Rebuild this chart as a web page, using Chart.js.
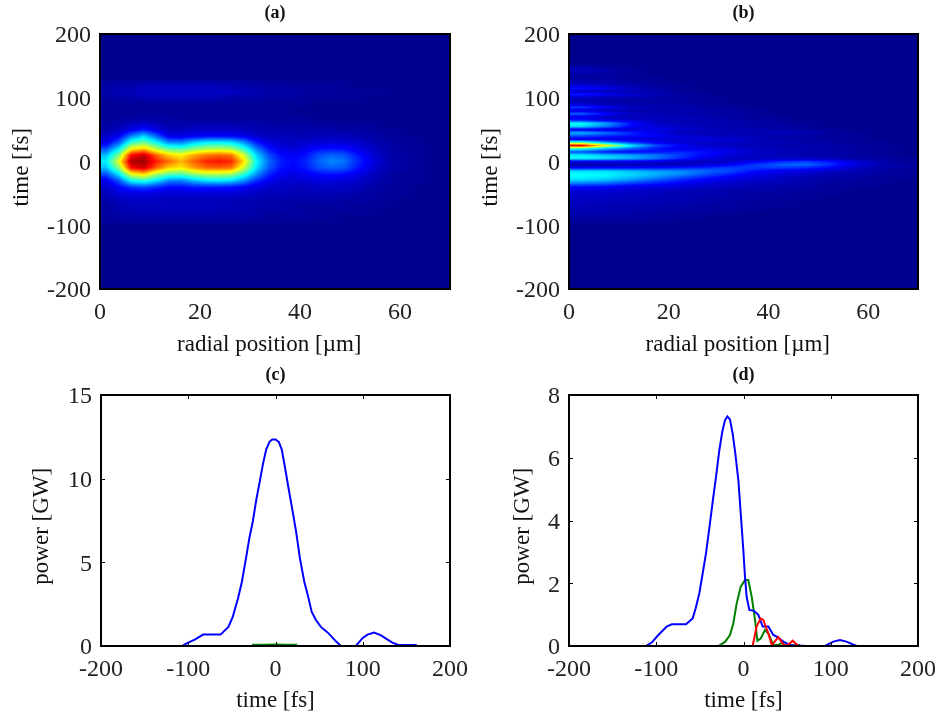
<!DOCTYPE html>
<html>
<head>
<meta charset="utf-8">
<title>pulse panels</title>
<script src="https://cdn.jsdelivr.net/npm/chart.js@4"></script>
<style>
  html, body { margin: 0; padding: 0; background: #fff; overflow: hidden; }
  #wrap { position: relative; width: 935px; height: 712px; overflow: hidden; }
  canvas { position: absolute; filter: blur(0.45px); }
</style>
</head>
<body>
<div id="wrap">
  <canvas id="panel-a"></canvas>
  <canvas id="panel-b"></canvas>
  <canvas id="panel-c"></canvas>
  <canvas id="panel-d"></canvas>
</div>
<script>
// axis ticks
const radialTicks = [0, 20, 40, 60];
const timeTicks = [-200, -100, 0, 100, 200];
const powerTicksC = [0, 5, 10, 15];
const powerTicksD = [0, 2, 4, 6, 8];

// panel (a): rows are time, columns are radial position, values in % of the colour range
const radiiA = [1.25, 3.75, 6.25, 8.75, 11.25, 13.75, 16.25, 18.75, 21.25, 23.75, 26.25, 28.75, 31.25, 33.75,
                36.25, 38.75, 41.25, 43.75, 46.25, 48.75, 51.25, 53.75, 56.25, 58.75, 61.25, 63.75, 66.25, 68.75];
const timesA = [130, 120, 110, 100, 90, 80, 70, 60, 50, 40, 30, 20, 10, 0, -10, -20, -30, -40, -50, -60, -70, -80, -90, -100];
const valuesA = [
  [1,1,1,1,1,1,1,1,1,1,1,1,1],
  [2,3,3,4,4,4,4,4,4,4,3,3,2,2,2,1,1,1,1,1],
  [3,4,5,6,6,6,6,6,6,6,6,5,4,3,3,3,2,2,2,1,1,1,1],
  [2,3,3,4,4,4,4,4,4,4,3,3,3,2,2,2,1,1,1,1,1],
  [1,1,1,1,1,1,1,1,1,1,1,1,1,1,1,1,1],
  [1,1,1,1,1,1,1,1,1,1,1,1,1,1,1],
  [1,1,1,2,2,2,1,1,1,1,1,1,1,1,1,1,1],
  [2,3,5,6,4,3,3,3,3,3,3,3,3,2,2,2,2,1,1,1,1,1],
  [3,5,10,15,9,5,5,6,6,6,6,5,4,4,3,3,3,3,3,2,2,2,1,1],
  [6,11,25,33,22,10,9,11,12,12,12,10,7,5,5,4,4,5,5,5,4,3,2,1,1],
  [10,21,42,48,38,26,25,32,36,37,35,27,15,9,7,6,7,8,8,8,7,5,3,2,1,1],
  [20,35,62,68,55,46,44,50,54,55,53,42,25,14,9,8,11,13,14,13,10,7,4,2,1,1],
  [31,50,87,93,78,67,63,71,76,78,76,58,34,20,13,11,14,20,22,21,15,10,5,3,2,1],
  [36,60,95,97,85,77,70,78,84,86,84,66,38,23,15,13,16,22,26,24,17,11,6,3,2,1],
  [31,50,87,92,78,67,64,72,77,78,76,58,35,21,14,12,15,20,22,21,15,10,5,3,2,1],
  [20,35,60,66,54,46,45,51,55,55,53,42,27,16,11,9,11,13,14,13,10,7,4,2,1,1],
  [10,21,38,42,35,26,25,31,35,36,34,27,17,11,8,7,8,9,9,8,7,5,3,2,1,1],
  [7,12,18,20,17,13,13,15,15,15,14,12,9,7,6,5,5,6,6,6,5,3,2,1,1],
  [5,8,9,9,8,8,8,8,8,8,8,7,6,5,5,4,4,4,4,4,3,2,2,1,1],
  [3,5,6,6,6,5,5,5,5,5,5,4,4,3,3,3,3,3,3,2,2,2,1,1],
  [2,4,5,5,5,5,5,5,5,5,4,4,3,3,3,2,2,2,2,2,1,1,1],
  [2,3,4,4,4,4,4,4,4,4,4,3,3,2,2,2,2,1,1,1,1,1],
  [2,2,2,2,2,2,2,2,2,2,2,2,2,1,1,1,1,1,1],
  [1,1,1,1,1,1,1,1,1,1,1,1,1,1]
];

// panel (b)
const radiiB = [2.5, 7.5, 12.5, 17.5, 22.5, 27.5, 32.5, 37.5, 42.5, 47.5, 52.5, 57.5, 62.5, 67.5];
const timesB = [160, 155, 150, 145, 140, 135, 130, 125, 120, 115, 110, 105, 100, 95, 90, 85, 80, 75, 70, 65, 60, 55, 50, 45, 40,
                35, 30, 25, 20, 15, 10, 5, 0, -5, -10, -15, -20, -25, -30, -35, -40, -45, -50, -55, -60, -65, -70, -75, -80, -85, -90, -95, -100];
const valuesB = [
  [0],
  [0],
  [2,1],
  [5,3,1],
  [4,3,1],
  [2,2,1],
  [2,2,1,1],
  [4,3,2,1],
  [7,5,3,1,1],
  [14,10,6,3,1],
  [7,5,4,3,1],
  [15,11,7,4,2,1],
  [6,4,4,3,2,1],
  [4,3,2,2,2,1],
  [7,4,3,3,3,2,1],
  [18,11,6,4,3,2,1],
  [8,5,3,3,4,3,2,1],
  [22,13,6,4,3,2,2,1],
  [10,6,4,5,5,4,2,1,1],
  [14,9,7,6,4,4,3,2,1],
  [38,28,14,6,4,4,4,3,2,1],
  [34,24,12,8,6,4,3,2,2,1],
  [10,8,8,10,7,5,4,4,3,2,1],
  [30,24,16,9,5,4,4,4,5,4,2,1],
  [20,16,14,12,8,6,5,4,3,2,1,1],
  [8,8,8,8,8,9,7,5,3,3,2,1],
  [45,28,18,11,7,6,6,5,4,3,2,1,1],
  [90,62,36,20,12,7,5,4,3,3,3,2,1],
  [40,30,22,14,10,9,8,6,5,4,3,2,1],
  [20,14,12,14,16,14,10,6,4,3,3,2,1],
  [36,32,28,24,18,12,8,6,5,4,3,2,1],
  [38,35,30,24,16,10,6,5,5,5,4,2,2,1],
  [10,10,10,9,6,5,7,11,16,18,14,8,3,1],
  [3,4,4,4,5,8,12,18,22,23,17,9,4,2],
  [12,13,13,14,15,17,19,18,18,16,12,6,3,2],
  [34,34,31,28,26,23,19,13,10,9,6,4,2,1],
  [38,37,34,30,26,20,15,10,8,6,4,3,2,1],
  [37,35,31,26,20,15,11,8,6,4,3,2,1,1],
  [32,30,25,20,15,11,8,6,5,3,2,2,1],
  [23,21,17,14,11,8,6,5,4,3,2,1,1],
  [13,12,10,9,8,6,5,4,3,2,1,1],
  [9,8,7,6,5,4,3,3,2,2,1],
  [7,7,6,5,4,4,3,2,2,1,1],
  [6,6,5,5,4,3,3,2,1,1],
  [6,5,5,4,4,3,2,2,1,1],
  [5,5,4,4,3,3,2,1,1],
  [5,4,4,3,3,2,2,1,1],
  [4,4,3,3,2,2,1,1],
  [4,3,3,2,2,1,1],
  [3,3,2,2,1,1],
  [2,2,2,1,1],
  [1,1,1,1],
  [1,1]
];

// panel (c) curves, null = line breaks
const timeBlueC = [-107, -100, -92, -83, -63, -54, -49, -43, -38.5, -33.5, -30, -26, -22, -18, -14.5, -10.7, -6.9, -3.8, 0, 3.8, 7.2, 11, 14.9, 19, 23.6, 28, 33, 37, 41.5, 46.5, 52, 60, 69.3, 75, 84, 92, 100, 105.5, 113, 121, 128, 134, 140, 162];
const powerBlueC = [0, 0.2, 0.4, 0.68, 0.68, 1.14, 1.74, 2.84, 3.84, 5.34, 6.44, 7.44, 8.74, 9.84, 10.84, 11.74, 12.2, 12.34, 12.34, 12.2, 11.74, 10.64, 9.44, 8.24, 6.84, 5.24, 3.84, 3.04, 2.04, 1.54, 1.14, 0.8, 0.28, 0, null, 0, 0.48, 0.68, 0.8, 0.64, 0.4, 0.2, 0.08, 0.06];
const timeGreenC = [-27, -15, 0, 12, 25];
const powerGreenC = [0.05, 0.05, 0.06, 0.05, 0.05];

// panel (d) curves
const timeBlueD = [-112, -105.2, -97.6, -88, -82.3, -65.9, -58.3, -54.8, -50.6, -46.8, -43, -39.2, -35.3, -31.5, -27.7, -24.3, -21.2, -18.5, -15.5, -12.4, -9.4, -5.9, -2.9, -0.2, 1.7, 3.6, 6.7, 12, 17, 22, 28.5, 34.2, 38, 45.7, 53.3, 72.4, 82, 93.4, 103, 110.6, 118, 129.7, 135];
const powerBlueD = [0, 0.11, 0.35, 0.62, 0.69, 0.69, 0.88, 1.2, 1.68, 2.31, 2.95, 3.75, 4.6, 5.39, 6.24, 6.83, 7.2, 7.32, 7.22, 6.77, 6.14, 5.29, 4.12, 3.06, 2.21, 1.57, 1.15, 1.12, 0.99, 0.62, 0.62, 0.35, 0.3, 0.14, 0.03, 0, null, 0, 0.14, 0.19, 0.14, 0, 0];
const timeGreenD = [-28.8, -21.2, -15.5, -11.7, -7.8, -3.2, 1.7, 5.5, 9.4, 13.2, 15.9, 19.7, 24.6, 28.5, 34.2, 39.7, 43.7, 49.5, 64.8];
const powerGreenD = [0, 0.13, 0.35, 0.72, 1.36, 1.89, 2.1, 2.1, 1.57, 0.83, 0.17, 0.24, 0.51, 0.4, 0.03, 0.03, 0.1, 0, 0.03];
const timeRedD = [-2, 5.5, 10.5, 15, 19.7, 22.7, 28.5, 32.4, 40, 45.7, 49.5, 56.4, 62.8];
const powerRedD = [0, 0, 0, 0.62, 0.88, 0.83, 0.4, 0.03, 0.28, 0.05, 0, 0.17, 0];

const SERIF = '"Liberation Serif", "Times New Roman", serif';

// matlab jet
function jet(v) {
  const stops = [[0, 0, 0, 143], [0.125, 0, 0, 255], [0.375, 0, 255, 255], [0.625, 255, 255, 0], [0.875, 255, 0, 0], [1, 128, 0, 0]];
  v = Math.max(0, Math.min(1, v));
  for (let i = 1; i < stops.length; i++) {
    if (v <= stops[i][0]) {
      const a = stops[i - 1], b = stops[i];
      const f = (v - a[0]) / (b[0] - a[0]);
      return [a[1] + f * (b[1] - a[1]), a[2] + f * (b[2] - a[2]), a[3] + f * (b[3] - a[3])];
    }
  }
  return [128, 0, 0];
}

function sampleGrid(xs, ys, rows, x, y) {
  const fy = (ys[0] - y) / (ys[0] - ys[1]);
  if (fy < 0 || fy > ys.length - 1) return 0;
  const fx = Math.max(0, Math.min(xs.length - 1, (x - xs[0]) / (xs[1] - xs[0])));
  const ix = Math.min(Math.floor(fx), xs.length - 2), iy = Math.min(Math.floor(fy), ys.length - 2);
  const tx = fx - ix, ty = fy - iy;
  const at = (r, c) => (rows[r][c] || 0);
  return ((1 - ty) * ((1 - tx) * at(iy, ix) + tx * at(iy, ix + 1)) + ty * ((1 - tx) * at(iy + 1, ix) + tx * at(iy + 1, ix + 1))) / 100;
}

// paints the colour surface through the chart's scales (shading interp)
function heatPlugin(xs, ys, rows) {
  return {
    id: 'heat',
    beforeDatasetsDraw(chart) {
      const area = chart.chartArea;
      const w = Math.round(area.right - area.left), h = Math.round(area.bottom - area.top);
      const off = document.createElement('canvas');
      off.width = w; off.height = h;
      const octx = off.getContext('2d');
      const img = octx.createImageData(w, h);
      for (let py = 0; py < h; py++) {
        const t = chart.scales.y.getValueForPixel(area.top + py + 0.5);
        for (let px = 0; px < w; px++) {
          const r = chart.scales.x.getValueForPixel(area.left + px + 0.5);
          const c = jet(sampleGrid(xs, ys, rows, r, t));
          const k = (py * w + px) * 4;
          img.data[k] = c[0]; img.data[k + 1] = c[1]; img.data[k + 2] = c[2]; img.data[k + 3] = 255;
        }
      }
      octx.putImageData(img, 0, 0);
      chart.ctx.drawImage(off, area.left, area.top);
    }
  };
}

// black box with matlab style inward ticks
function framePlugin(tickLen) {
  return {
    id: 'frame',
    afterDatasetsDraw(chart) {
      const { ctx, chartArea: a, scales } = chart;
      ctx.save();
      ctx.strokeStyle = '#000';
      ctx.lineWidth = 2;
      ctx.strokeRect(a.left, a.top, a.right - a.left, a.bottom - a.top);
      if (tickLen) {
        ctx.lineWidth = 1;
        ctx.beginPath();
        scales.x.ticks.forEach(t => {
          const x = Math.round(scales.x.getPixelForValue(t.value)) + 0.5;
          ctx.moveTo(x, a.top); ctx.lineTo(x, a.top + tickLen);
          ctx.moveTo(x, a.bottom); ctx.lineTo(x, a.bottom - tickLen);
        });
        scales.y.ticks.forEach(t => {
          const y = Math.round(scales.y.getPixelForValue(t.value)) + 0.5;
          ctx.moveTo(a.left, y); ctx.lineTo(a.left + tickLen, y);
          ctx.moveTo(a.right, y); ctx.lineTo(a.right - tickLen, y);
        });
        ctx.stroke();
      }
      ctx.restore();
    }
  };
}

function toPoints(xs, ys) {
  return xs.map((x, i) => ({ x: x, y: ys[i] }));
}

function curve(xs, ys, color, width) {
  return { data: toPoints(xs, ys), borderColor: color, borderWidth: width || 2, pointRadius: 0, tension: 0, showLine: true, fill: false, spanGaps: false };
}

function gridPoints(xs, ys, rows) {
  const pts = [];
  ys.forEach((y, r) => xs.forEach((x, c) => pts.push({ x: x, y: y, v: rows[r][c] || 0 })));
  return [{ data: pts, pointRadius: 0, showLine: false }];
}

function makePanel(o) {
  const canvas = document.getElementById(o.id);
  canvas.width = o.w; canvas.height = o.h;
  canvas.style.left = o.left + 'px';
  canvas.style.top = o.top + 'px';
  canvas.style.width = o.w + 'px';
  canvas.style.height = o.h + 'px';
  return new Chart(canvas.getContext('2d'), {
    type: 'scatter',
    data: { datasets: o.datasets },
    plugins: o.plugins,
    options: {
      responsive: false,
      animation: false,
      events: [],
      layout: { padding: { left: 0, right: o.w - o.plotRight, top: 0, bottom: 0 } },
      plugins: {
        legend: { display: false },
        tooltip: { enabled: false },
        title: {
          display: true, text: o.title, fullSize: false, color: '#111',
          font: { family: SERIF, size: 18, weight: 'bold', lineHeight: 1 },
          padding: { top: o.titlePadTop, bottom: o.plotTop - o.titlePadTop - 18 }
        }
      },
      scales: {
        x: {
          type: 'linear', min: o.xMin, max: o.xMax,
          grid: { display: false, drawTicks: false }, border: { display: false },
          ticks: { font: { family: SERIF, size: 24 }, color: '#222', padding: 9, autoSkip: false, maxRotation: 0 },
          title: { display: true, text: o.xLabel, color: '#111', font: { family: SERIF, size: 23, lineHeight: 1 }, padding: { top: 0, bottom: o.xLabelPad } },
          afterBuildTicks: s => { s.ticks = o.xTicks.map(v => ({ value: v })); },
          afterFit: s => { s.height = o.h - o.plotBottom; }
        },
        y: {
          type: 'linear', min: o.yMin, max: o.yMax,
          grid: { display: false, drawTicks: false }, border: { display: false },
          ticks: { font: { family: SERIF, size: 24 }, color: '#222', padding: 9, labelOffset: 2, autoSkip: false },
          title: { display: true, text: o.yLabel, color: '#111', font: { family: SERIF, size: 23, lineHeight: 1 }, padding: { top: o.yLabelPad, bottom: 0 } },
          afterBuildTicks: s => { s.ticks = o.yTicks.map(v => ({ value: v })); },
          afterFit: s => { s.width = o.plotLeft; }
        }
      }
    }
  });
}

makePanel({
  id: 'panel-a', left: 0, top: 0, w: 485, h: 356, plotLeft: 100, plotRight: 450, plotTop: 34, plotBottom: 289,
  title: '(a)', titlePadTop: 4, xLabel: 'radial position [\u00b5m]  ', yLabel: 'time [fs]  ', xLabelPad: 0, yLabelPad: 10,
  xMin: 0, xMax: 70, yMin: -200, yMax: 200, xTicks: radialTicks, yTicks: timeTicks,
  datasets: gridPoints(radiiA, timesA, valuesA),
  plugins: [heatPlugin(radiiA, timesA, valuesA), framePlugin(0)]
});

makePanel({
  id: 'panel-b', left: 468, top: 0, w: 485, h: 356, plotLeft: 101, plotRight: 450, plotTop: 34, plotBottom: 289,
  title: '(b)', titlePadTop: 4, xLabel: 'radial position [\u00b5m]  ', yLabel: 'time [fs]  ', xLabelPad: 0, yLabelPad: 11,
  xMin: 0, xMax: 70, yMin: -200, yMax: 200, xTicks: radialTicks, yTicks: timeTicks,
  datasets: gridPoints(radiiB, timesB, valuesB),
  plugins: [heatPlugin(radiiB, timesB, valuesB), framePlugin(0)]
});

makePanel({
  id: 'panel-c', left: 0, top: 356, w: 485, h: 356, plotLeft: 101, plotRight: 450, plotTop: 39, plotBottom: 290,
  title: '(c)', titlePadTop: 10, xLabel: 'time [fs]', yLabel: 'power [GW]  ', xLabelPad: 0, yLabelPad: 30,
  xMin: -200, xMax: 200, yMin: 0, yMax: 15, xTicks: timeTicks, yTicks: powerTicksC,
  datasets: [curve(timeBlueC, powerBlueC, '#0000ff'), curve(timeGreenC, powerGreenC, '#008000', 3)],
  plugins: [framePlugin(4)]
});

makePanel({
  id: 'panel-d', left: 468, top: 356, w: 485, h: 356, plotLeft: 101, plotRight: 450, plotTop: 39, plotBottom: 290,
  title: '(d)', titlePadTop: 10, xLabel: 'time [fs]', yLabel: 'power [GW]  ', xLabelPad: 0, yLabelPad: 43,
  xMin: -200, xMax: 200, yMin: 0, yMax: 8, xTicks: timeTicks, yTicks: powerTicksD,
  datasets: [curve(timeRedD, powerRedD, '#ff0000'), curve(timeBlueD, powerBlueD, '#0000ff'), curve(timeGreenD, powerGreenD, '#008000')],
  plugins: [framePlugin(4)]
});
</script>
</body>
</html>
